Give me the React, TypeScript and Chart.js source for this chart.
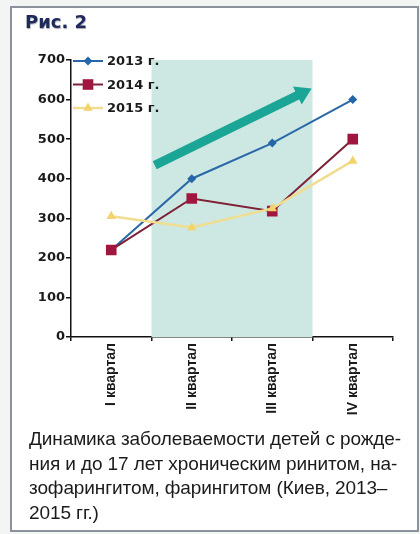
import React, { useEffect, useRef } from 'react';
import { Chart, registerables } from 'chart.js';

Chart.register(...registerables);

// Quarter categories and yearly series
const quarters = ['I квартал', 'II квартал', 'III квартал', 'IV квартал'];
const seriesLabels = ['2013 г.', '2014 г.', '2015 г.'];
const values2013 = [220, 400, 490, 600];
const values2014 = [220, 350, 318, 500];
const values2015 = [305, 277, 325, 445];
const yMax = 700;
const yStep = 100;

// Highlighted span (II–III quarters) in category-index units
const bandRange = [0.5, 2.5];
// Trend arrow endpoints: [category index, value]
const trendStart = [0.54, 434];
const trendEnd = [2.49, 628];

const colors = {
  blue: '#2566a8',
  blueLine: '#2a68a8',
  red: '#a0163e',
  redLine: '#7e2136',
  yellow: '#f2d46a',
  yellowLine: '#f0dd90',
  band: '#cde8e3',
  arrow: '#1ba597',
  text: '#1b1b1b',
};

type MarkerStyle = 'rectRot' | 'rect' | 'triangle';

function drawMarker(ctx: CanvasRenderingContext2D, style: MarkerStyle, x: number, y: number, r: number, fill: string) {
  ctx.save();
  ctx.fillStyle = fill;
  ctx.beginPath();
  if (style === 'rect') {
    const s = r * Math.SQRT1_2;
    ctx.rect(x - s, y - s, 2 * s, 2 * s);
  } else if (style === 'rectRot') {
    ctx.moveTo(x, y - r);
    ctx.lineTo(x + r, y);
    ctx.lineTo(x, y + r);
    ctx.lineTo(x - r, y);
    ctx.closePath();
  } else {
    ctx.moveTo(x, y - r);
    ctx.lineTo(x + r * 0.866, y + r / 2);
    ctx.lineTo(x - r * 0.866, y + r / 2);
    ctx.closePath();
  }
  ctx.fill();
  ctx.restore();
}

const decorPlugin = {
  id: 'decor',
  beforeDatasetsDraw(chart: any) {
    const { ctx, chartArea, scales } = chart;
    const x = scales.x;
    const y = scales.y;
    ctx.save();
    // shaded quarters
    const x0 = x.getPixelForValue(bandRange[0]);
    const x1 = x.getPixelForValue(bandRange[1]);
    ctx.fillStyle = colors.band;
    ctx.fillRect(x0, chartArea.top, x1 - x0, chartArea.bottom - chartArea.top);

    // trend arrow
    const sx = x.getPixelForValue(trendStart[0]);
    const sy = y.getPixelForValue(trendStart[1]);
    const ex = x.getPixelForValue(trendEnd[0]);
    const ey = y.getPixelForValue(trendEnd[1]);
    const ang = Math.atan2(ey - sy, ex - sx);
    const headLen = 16;
    const headHalf = 10;
    const bx = ex - Math.cos(ang) * headLen;
    const by = ey - Math.sin(ang) * headLen;
    ctx.strokeStyle = colors.arrow;
    ctx.lineWidth = 9;
    ctx.lineCap = 'butt';
    ctx.beginPath();
    ctx.moveTo(sx, sy);
    ctx.lineTo(bx + Math.cos(ang), by + Math.sin(ang));
    ctx.stroke();
    ctx.fillStyle = colors.arrow;
    ctx.beginPath();
    ctx.moveTo(ex, ey);
    ctx.lineTo(bx - Math.sin(ang) * headHalf, by + Math.cos(ang) * headHalf);
    ctx.lineTo(bx + Math.sin(ang) * headHalf, by - Math.cos(ang) * headHalf);
    ctx.closePath();
    ctx.fill();
    ctx.restore();
  },
  afterDatasetsDraw(chart: any) {
    const { ctx, chartArea } = chart;
    ctx.save();
    chart.data.datasets.forEach((ds: any, i: number) => {
      const rowY = chartArea.top + 1 + i * 23.5;
      const lx = chartArea.left + 2;
      ctx.strokeStyle = ds.borderColor;
      ctx.lineWidth = ds.borderWidth;
      ctx.beginPath();
      ctx.moveTo(lx, rowY);
      ctx.lineTo(lx + 30, rowY);
      ctx.stroke();
      drawMarker(ctx, ds.pointStyle, lx + 15, rowY, ds.pointRadius, ds.pointBackgroundColor);
      ctx.fillStyle = colors.text;
      ctx.font = 'bold 13px "DejaVu Sans"';
      ctx.textAlign = 'left';
      ctx.textBaseline = 'middle';
      ctx.fillText(ds.label, lx + 34, rowY + 1);
    });
    ctx.restore();
  },
};

export default function App() {
  const canvasRef = useRef<HTMLCanvasElement | null>(null);

  useEffect(() => {
    if (!canvasRef.current) return;
    const chart = new Chart(canvasRef.current, {
      type: 'line',
      data: {
        labels: quarters,
        datasets: [
          {
            label: seriesLabels[0],
            data: values2013,
            borderColor: colors.blueLine,
            backgroundColor: colors.blue,
            pointBackgroundColor: colors.blue,
            pointBorderColor: colors.blue,
            pointBorderWidth: 0,
            pointStyle: 'rectRot',
            pointRadius: 4.5,
            borderWidth: 2,
            tension: 0,
            order: 2,
          },
          {
            label: seriesLabels[1],
            data: values2014,
            borderColor: colors.redLine,
            backgroundColor: colors.red,
            pointBackgroundColor: colors.red,
            pointBorderColor: colors.red,
            pointBorderWidth: 0,
            pointStyle: 'rect',
            pointRadius: 7.5,
            borderWidth: 2,
            tension: 0,
            order: 1,
          },
          {
            label: seriesLabels[2],
            data: values2015,
            borderColor: colors.yellowLine,
            backgroundColor: colors.yellow,
            pointBackgroundColor: colors.yellow,
            pointBorderColor: colors.yellow,
            pointBorderWidth: 0,
            pointStyle: 'triangle',
            pointRadius: 5.5,
            borderWidth: 2.5,
            tension: 0,
            order: 0,
          },
        ],
      },
      options: {
        animation: false,
        responsive: false,
        devicePixelRatio: 1,
        layout: { padding: { left: 31, right: 27, top: 60, bottom: 107 } },
        plugins: {
          legend: { display: false },
          tooltip: { enabled: false },
        },
        scales: {
          x: {
            type: 'category',
            offset: true,
            grid: {
              offset: true,
              drawOnChartArea: false,
              drawTicks: true,
              tickLength: 4,
              color: '#111',
              lineWidth: 1.5,
            },
            border: { display: true, color: '#111', width: 1.5 },
            ticks: {
              minRotation: 90,
              maxRotation: 90,
              padding: 2,
              color: colors.text,
              font: { family: '"Liberation Sans"', size: 14, weight: 'bold' },
            },
            afterFit(scale: any) {
              scale.height = 90;
            },
          },
          y: {
            min: 0,
            max: yMax,
            grid: {
              drawOnChartArea: false,
              drawTicks: true,
              tickLength: 5,
              color: '#111',
              lineWidth: 1.5,
            },
            border: { display: true, color: '#111', width: 1.5 },
            ticks: {
              stepSize: yStep,
              padding: 1,
              color: colors.text,
              font: { family: '"DejaVu Sans"', size: 13, weight: 'bold' },
            },
            afterFit(scale: any) {
              scale.width = 40;
            },
          },
        },
      },
      plugins: [decorPlugin],
    });
    return () => chart.destroy();
  }, []);

  return (
    <div style={{ position: 'absolute', left: 0, top: 0, width: 420, height: 534, background: '#f3f4f4', overflow: 'hidden' }}>
      <div
        style={{
          position: 'absolute',
          left: 10,
          top: 6,
          width: 409,
          height: 526,
          boxSizing: 'border-box',
          border: '2px solid #8a929c',
          background: '#ffffff',
        }}
      />
      <canvas
        ref={canvasRef}
        width={420}
        height={534}
        style={{ position: 'absolute', left: 0, top: 0, width: 420, height: 534 }}
      />
      <div
        style={{
          position: 'absolute',
          left: 25,
          top: 11,
          fontFamily: '"DejaVu Sans"',
          fontWeight: 'bold',
          fontSize: 18,
          color: '#1e2a5c',
          textShadow: '0.5px 0.5px 1px rgba(0,0,0,0.35)',
          whiteSpace: 'nowrap',
        }}
      >
        Рис. 2
      </div>
      <div
        style={{
          position: 'absolute',
          left: 29,
          top: 427,
          fontFamily: '"Liberation Sans"',
          fontSize: 19,
          lineHeight: '24.5px',
          letterSpacing: '-0.1px',
          color: colors.text,
          whiteSpace: 'pre',
        }}
      >
        {'Динамика заболеваемости детей с рожде-\nния и до 17 лет хроническим ринитом, на-\nзофарингитом, фарингитом (Киев, 2013–\n2015 гг.)'}
      </div>
    </div>
  );
}
